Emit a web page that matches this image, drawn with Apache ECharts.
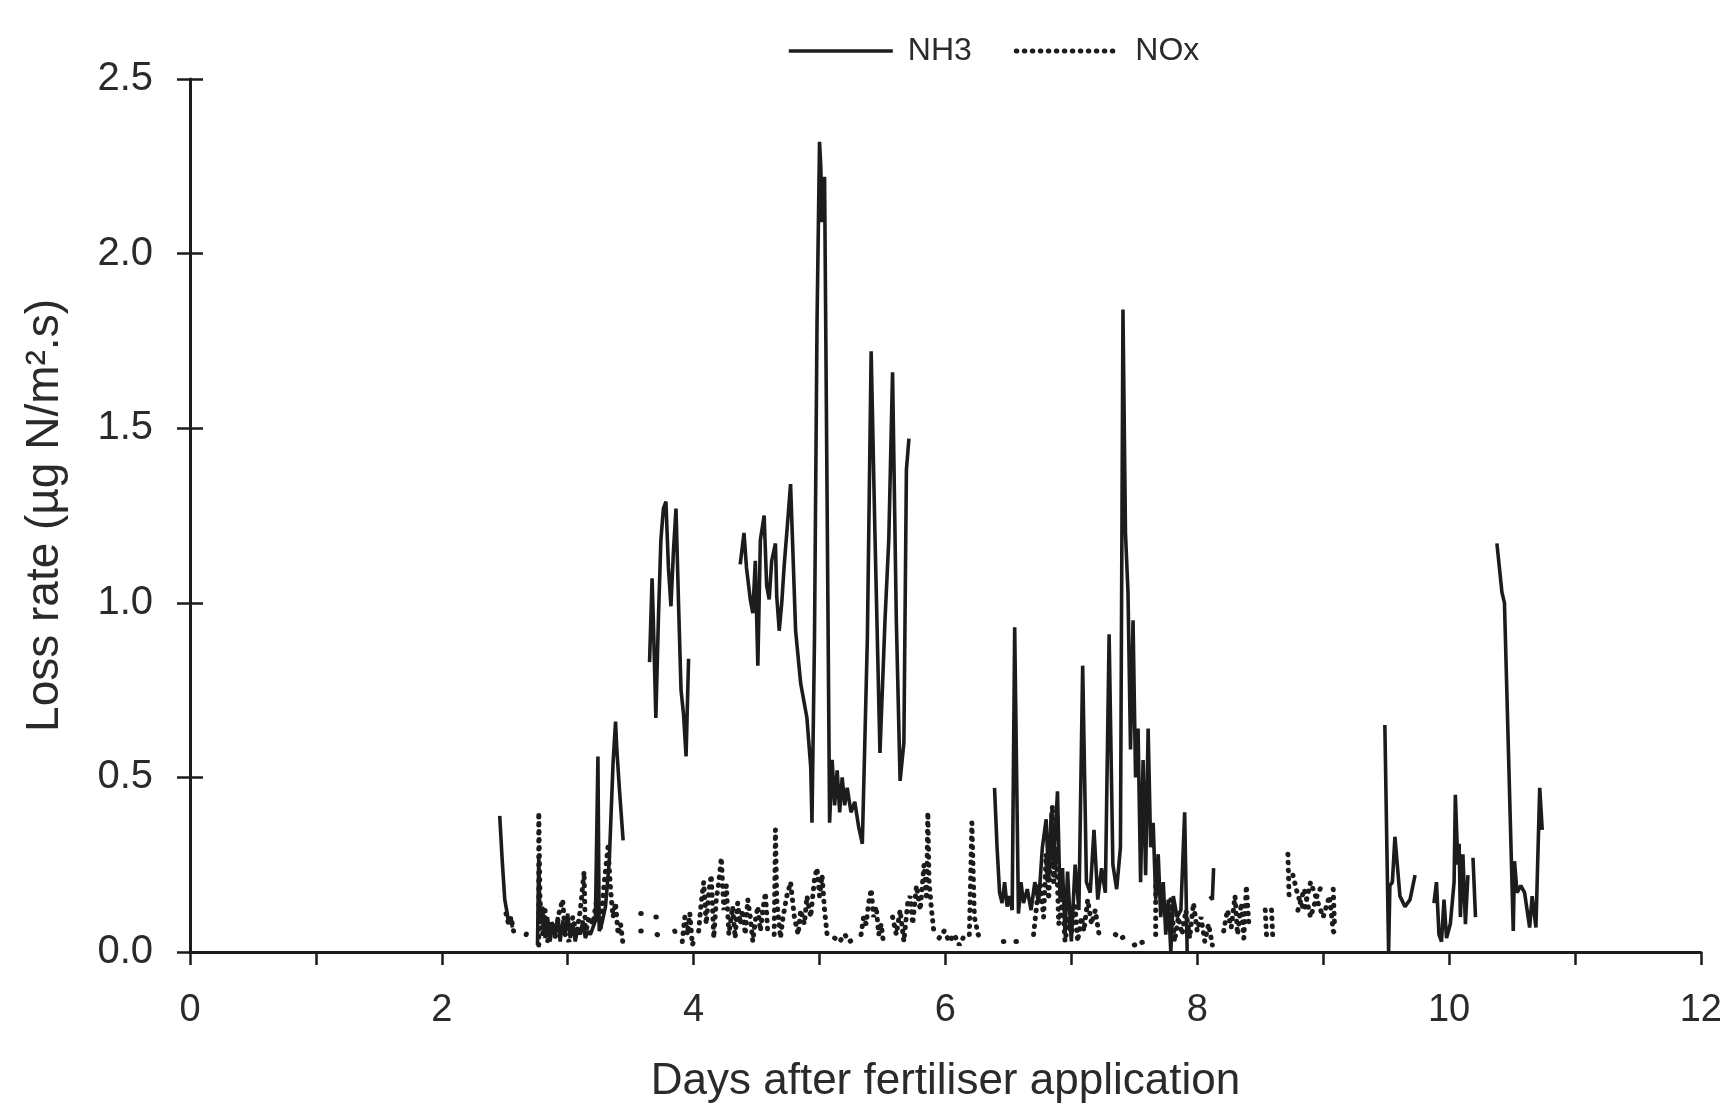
<!DOCTYPE html>
<html>
<head>
<meta charset="utf-8">
<title>NH3 and NOx loss rate</title>
<script src="https://cdn.jsdelivr.net/npm/echarts@6/dist/echarts.min.js"></script>
<style>
    html, body { margin: 0; padding: 0; background: #fff; }
    #chart { width: 1725px; height: 1109px; }
</style>
</head>
<body>
<div id="chart"></div>
<script>
// axis ticks
const dayTicks = [0, 1, 2, 3, 4, 5, 6, 7, 8, 9, 10, 11, 12];
const rateTicks = [0, 0.5, 1.0, 1.5, 2.0, 2.5];

// NH3 loss rate, null = gap in the record
const nh3Days = [
    2.46, 2.48, 2.50, 2.52, 2.53, 2.55, 2.56, null,
    2.76, 2.77, 2.78, 2.80, 2.82, 2.84, 2.86, 2.88, 2.90, 2.92, 2.94, 2.96, 2.98, 3.00, 3.02, 3.04, 3.06, 3.08, 3.10, 3.12, 3.14, 3.16, 3.18, 3.20, 3.22, 3.24, 3.25, 3.27, 3.30, 3.33, 3.36, 3.38, 3.39, 3.41, 3.44, null,
    3.65, 3.67, 3.68, 3.70, 3.72, 3.74, 3.76, 3.78, 3.80, 3.82, 3.84, 3.86, 3.88, 3.90, 3.92, 3.94, 3.96, null,
    4.37, 4.40, 4.42, 4.45, 4.47, 4.49, 4.51, 4.53, 4.56, 4.58, 4.60, 4.62, 4.65, 4.66, 4.68, 4.70, 4.72, 4.74, 4.77, 4.81, 4.85, 4.90, 4.93, 4.94, 4.96, 4.98, 5.00, 5.01, 5.02, 5.04, 5.06, 5.08, 5.10, 5.12, 5.14, 5.16, 5.18, 5.20, 5.22, 5.25, 5.28, 5.31, 5.34, 5.38, 5.41, 5.44, 5.48, 5.52, 5.55, 5.58, 5.61, 5.64, 5.67, 5.69, 5.71, null,
    6.39, 6.41, 6.43, 6.45, 6.47, 6.49, 6.51, 6.53, 6.55, 6.58, 6.60, 6.62, 6.65, 6.68, 6.71, 6.74, 6.77, 6.80, 6.82, 6.84, 6.86, 6.89, 6.91, 6.93, 6.95, 6.97, 7.00, 7.03, 7.06, 7.09, 7.12, 7.15, 7.18, 7.21, 7.24, 7.27, 7.30, 7.33, 7.36, 7.39, 7.41, 7.43, 7.45, 7.47, 7.49, 7.51, 7.53, 7.55, 7.57, 7.59, 7.61, 7.63, 7.65, 7.67, 7.69, 7.71, 7.73, 7.75, 7.77, 7.79, 7.81, 7.84, 7.87, 7.90, 7.92, null,
    8.10, 8.12, 8.13, null,
    9.49, 9.52, 9.53, 9.55, 9.57, 9.61, 9.65, 9.69, 9.73, null,
    9.88, 9.90, 9.92, 9.94, 9.96, 9.98, 10.01, 10.04, 10.05, 10.07, 10.08, 10.09, 10.11, 10.13, 10.15, null,
    10.19, 10.21, null,
    10.38, 10.42, 10.44, 10.51, 10.52, 10.54, 10.57, 10.60, 10.64, 10.66, 10.69, 10.72, 10.74
];
const nh3Rates = [
    0.39, 0.26, 0.15, 0.11, 0.08, 0.10, 0.07, null,
    0.02, 0.27, 0.08, 0.13, 0.04, 0.10, 0.03, 0.08, 0.05, 0.10, 0.03, 0.09, 0.05, 0.11, 0.04, 0.08, 0.03, 0.07, 0.05, 0.09, 0.04, 0.06, 0.05, 0.07, 0.09, 0.56, 0.06, 0.08, 0.13, 0.26, 0.54, 0.66, 0.58, 0.47, 0.32, null,
    0.83, 1.07, 0.95, 0.67, 0.95, 1.18, 1.27, 1.29, 1.10, 0.99, 1.15, 1.27, 1.00, 0.75, 0.68, 0.56, 0.84, null,
    1.11, 1.20, 1.10, 1.01, 0.97, 1.12, 0.82, 1.18, 1.25, 1.05, 1.01, 1.12, 1.17, 1.02, 0.92, 1.00, 1.11, 1.20, 1.34, 0.92, 0.77, 0.67, 0.53, 0.37, 0.90, 1.80, 2.32, 2.25, 2.09, 2.22, 1.30, 0.37, 0.55, 0.42, 0.52, 0.40, 0.50, 0.42, 0.47, 0.40, 0.43, 0.36, 0.31, 0.90, 1.72, 1.20, 0.57, 0.95, 1.18, 1.66, 0.95, 0.49, 0.60, 1.38, 1.47, null,
    0.47, 0.30, 0.17, 0.14, 0.20, 0.13, 0.16, 0.12, 0.93, 0.11, 0.20, 0.14, 0.18, 0.12, 0.20, 0.14, 0.30, 0.38, 0.20, 0.40, 0.25, 0.46, 0.15, 0.24, 0.05, 0.23, 0.03, 0.25, 0.12, 0.82, 0.20, 0.17, 0.35, 0.15, 0.24, 0.17, 0.91, 0.25, 0.18, 0.30, 1.84, 1.20, 1.03, 0.58, 0.95, 0.50, 0.64, 0.20, 0.55, 0.22, 0.64, 0.30, 0.37, 0.15, 0.28, 0.10, 0.20, 0.05, 0.15, 0.00, 0.16, 0.10, 0.12, 0.40, 0.00, null,
    0.16, 0.15, 0.24, null,
    0.65, 0.00, 0.19, 0.20, 0.33, 0.16, 0.13, 0.15, 0.22, null,
    0.14, 0.20, 0.05, 0.03, 0.15, 0.04, 0.08, 0.20, 0.45, 0.25, 0.31, 0.10, 0.28, 0.08, 0.22, null,
    0.27, 0.10, null,
    1.17, 1.03, 1.00, 0.06, 0.26, 0.17, 0.19, 0.17, 0.07, 0.16, 0.07, 0.47, 0.35
];

// NOx loss rate, null = gap
const noxDays = [
    2.51, 2.53, 2.55, 2.57, null,
    2.67, 2.69, null,
    2.77, 2.77, 2.78, 2.80, 2.82, 2.84, 2.87, 2.90, 2.93, 2.96, 2.98, 3.01, 3.04, 3.07, 3.10, 3.13, 3.14, 3.17, 3.20, 3.23, 3.26, 3.29, 3.32, 3.34, 3.36, 3.38, 3.40, 3.42, 3.44, null,
    3.58, 3.63, null, 3.58, 3.63, null,
    3.70, 3.75, null, 3.71, 3.76, null,
    3.85, 3.87, null,
    3.91, 3.93, 3.95, 3.97, 3.99, 4.01, null,
    4.04, 4.06, 4.08, 4.10, 4.12, 4.14, 4.16, 4.18, 4.20, 4.22, 4.24, 4.26, 4.28, 4.31, 4.33, 4.35, 4.37, 4.39, 4.41, 4.43, 4.45, 4.47, 4.49, 4.51, 4.53, 4.55, 4.57, 4.59, null,
    4.64, 4.65, 4.66, 4.69, 4.71, 4.74, 4.77, 4.80, 4.83, 4.85, 4.88, 4.90, 4.93, 4.96, 4.98, 5.00, 5.02, 5.04, 5.06, null,
    5.12, 5.16, 5.20, 5.24, 5.28, null,
    5.33, 5.35, 5.37, 5.39, 5.41, 5.43, 5.45, 5.47, 5.49, 5.51, null,
    5.58, 5.61, 5.64, 5.67, 5.70, 5.72, 5.74, 5.77, 5.80, 5.83, 5.85, 5.86, 5.87, 5.89, 5.91, null,
    5.95, 5.99, 6.03, 6.07, 6.11, 6.14, null,
    6.19, 6.21, 6.23, 6.26, 6.29, null,
    6.46, 6.50, null, 6.56, 6.61, null,
    6.70, 6.73, 6.75, 6.78, 6.80, 6.82, 6.85, 6.86, 6.88, 6.90, 6.93, 6.95, 6.98, 7.00, 7.03, 7.05, 7.08, 7.10, 7.13, 7.16, 7.19, 7.22, null,
    7.35, 7.40, 7.45, null, 7.50, 7.58, null,
    7.67, 7.67, null,
    7.76, 7.79, 7.82, 7.85, 7.88, 7.91, 7.94, 7.97, 8.00, 8.03, 8.06, 8.09, 8.12, null,
    8.21, 8.24, 8.27, 8.30, 8.32, 8.35, 8.37, 8.39, 8.41, null,
    8.54, 8.55, null, 8.59, 8.60, null,
    8.72, 8.73, null,
    8.76, 8.80, 8.85, 8.90, 8.95, 9.00, 9.05, 9.08, 9.10, null,
    8.80, 8.85, 8.90, 8.95, 9.00, null,
    9.08, 9.09
];
const noxRates = [
    0.11, 0.08, 0.10, 0.06, null,
    0.05, 0.07, null,
    0.02, 0.40, 0.15, 0.05, 0.12, 0.03, 0.09, 0.04, 0.11, 0.15, 0.05, 0.03, 0.10, 0.05, 0.12, 0.23, 0.05, 0.10, 0.08, 0.15, 0.07, 0.20, 0.30, 0.18, 0.10, 0.14, 0.05, 0.08, 0.02, null,
    0.11, 0.11, null, 0.06, 0.06, null,
    0.10, 0.10, null, 0.05, 0.04, null,
    0.06, 0.04, null,
    0.03, 0.10, 0.05, 0.11, 0.02, 0.04, null,
    0.06, 0.14, 0.20, 0.08, 0.17, 0.22, 0.04, 0.15, 0.20, 0.27, 0.12, 0.19, 0.05, 0.13, 0.04, 0.14, 0.08, 0.12, 0.05, 0.15, 0.10, 0.03, 0.09, 0.13, 0.06, 0.12, 0.17, 0.05, null,
    0.05, 0.35, 0.15, 0.04, 0.10, 0.16, 0.20, 0.10, 0.05, 0.12, 0.08, 0.16, 0.10, 0.21, 0.24, 0.16, 0.22, 0.12, 0.05, null,
    0.04, 0.03, 0.05, 0.03, 0.04, null,
    0.05, 0.10, 0.08, 0.14, 0.18, 0.10, 0.13, 0.05, 0.08, 0.02, null,
    0.10, 0.05, 0.12, 0.03, 0.14, 0.16, 0.08, 0.19, 0.12, 0.25, 0.15, 0.40, 0.20, 0.12, 0.05, null,
    0.04, 0.06, 0.03, 0.05, 0.02, 0.04, null,
    0.05, 0.37, 0.10, 0.05, 0.03, null,
    0.03, 0.03, null, 0.03, 0.03, null,
    0.05, 0.15, 0.20, 0.10, 0.28, 0.15, 0.42, 0.20, 0.30, 0.08, 0.15, 0.03, 0.10, 0.05, 0.13, 0.03, 0.10, 0.06, 0.15, 0.08, 0.12, 0.05, null,
    0.05, 0.04, 0.05, null, 0.02, 0.03, null,
    0.05, 0.19, null,
    0.08, 0.15, 0.03, 0.10, 0.05, 0.12, 0.04, 0.14, 0.06, 0.10, 0.03, 0.08, 0.02, null,
    0.06, 0.12, 0.07, 0.16, 0.05, 0.14, 0.04, 0.19, 0.08, null,
    0.12, 0.05, null, 0.12, 0.04, null,
    0.28, 0.15, null,
    0.22, 0.16, 0.12, 0.20, 0.15, 0.10, 0.16, 0.06, 0.05, null,
    0.12, 0.18, 0.10, 0.16, 0.20, null,
    0.18, 0.08
];

function toPoints (days, rates) {
    return days.map((d, i) => (rates[i] === null || d === null) ? ['-', '-'] : [d, rates[i]]);
}

const font = "'Liberation Sans', Arial, sans-serif";
const ink = '#1c1c1c';
const nh3Line = { color: ink, width: 3.6 };
const noxLine = { color: ink, width: 5, type: [0.5, 7.5], cap: 'round' };

let chart = echarts.init(document.getElementById('chart'));

let option = {
    animation: false,
    backgroundColor: '#fff',
    textStyle: { fontFamily: font },
    legend: {
        data: [
            { name: 'NH3', lineStyle: nh3Line },
            { name: 'NOx', lineStyle: noxLine }
        ],
        left: 782,
        top: 30,
        itemWidth: 104,
        itemHeight: 14,
        itemGap: 42,
        // hide the marker that echarts puts in the middle of the line icon
        itemStyle: { color: 'rgba(0,0,0,0)', borderWidth: 0, opacity: 0 },
        textStyle: { fontSize: 32, color: '#2a2a2a', fontFamily: font, padding: [0, 0, 0, 10] }
    },
    grid: { left: 190, right: 17, top: 79, bottom: 152, containLabel: false },
    xAxis: {
        type: 'value',
        min: dayTicks[0],
        max: dayTicks[dayTicks.length - 1],
        interval: 1,
        name: 'Days after fertiliser application',
        nameLocation: 'middle',
        nameGap: 108,
        nameTextStyle: { fontSize: 44, color: '#2a2a2a', fontFamily: font },
        axisLine: { lineStyle: { color: ink, width: 3 } },
        axisTick: { length: 13, lineStyle: { color: ink, width: 2.5 } },
        axisLabel: {
            margin: 40, fontSize: 38, color: '#2a2a2a', fontFamily: font,
            formatter: v => (v % 2 === 0 ? String(v) : '')
        },
        splitLine: { show: false }
    },
    yAxis: [
        {
            type: 'value',
            min: rateTicks[0],
            max: rateTicks[rateTicks.length - 1],
            interval: 0.5,
            name: 'Loss rate (µg N/m².s)',
            nameLocation: 'middle',
            nameGap: 122,
            nameTextStyle: { fontSize: 46, color: '#2a2a2a', fontFamily: font },
            axisLine: { show: true, lineStyle: { color: ink, width: 3 } },
            axisTick: { show: true, length: 13, lineStyle: { color: ink, width: 2.5 } },
            axisLabel: {
                margin: 37, fontSize: 40, color: '#2a2a2a', fontFamily: font,
                formatter: v => v.toFixed(1)
            },
            splitLine: { show: false }
        },
        {
            // inner half of the crossing ticks
            type: 'value',
            position: 'left',
            min: rateTicks[0],
            max: rateTicks[rateTicks.length - 1],
            interval: 0.5,
            axisLine: { show: false },
            axisTick: { show: true, inside: true, length: 13, lineStyle: { color: ink, width: 2.5 } },
            axisLabel: { show: false },
            splitLine: { show: false }
        }
    ],
    series: [
        {
            name: 'NH3',
            type: 'line',
            symbol: 'none',
            connectNulls: false,
            lineStyle: nh3Line,
            itemStyle: { color: ink },
            data: toPoints(nh3Days, nh3Rates)
        },
        {
            name: 'NOx',
            type: 'line',
            symbol: 'none',
            connectNulls: false,
            lineStyle: noxLine,
            itemStyle: { color: ink },
            data: toPoints(noxDays, noxRates)
        }
    ]
};

chart.setOption(option);
</script>
</body>
</html>
